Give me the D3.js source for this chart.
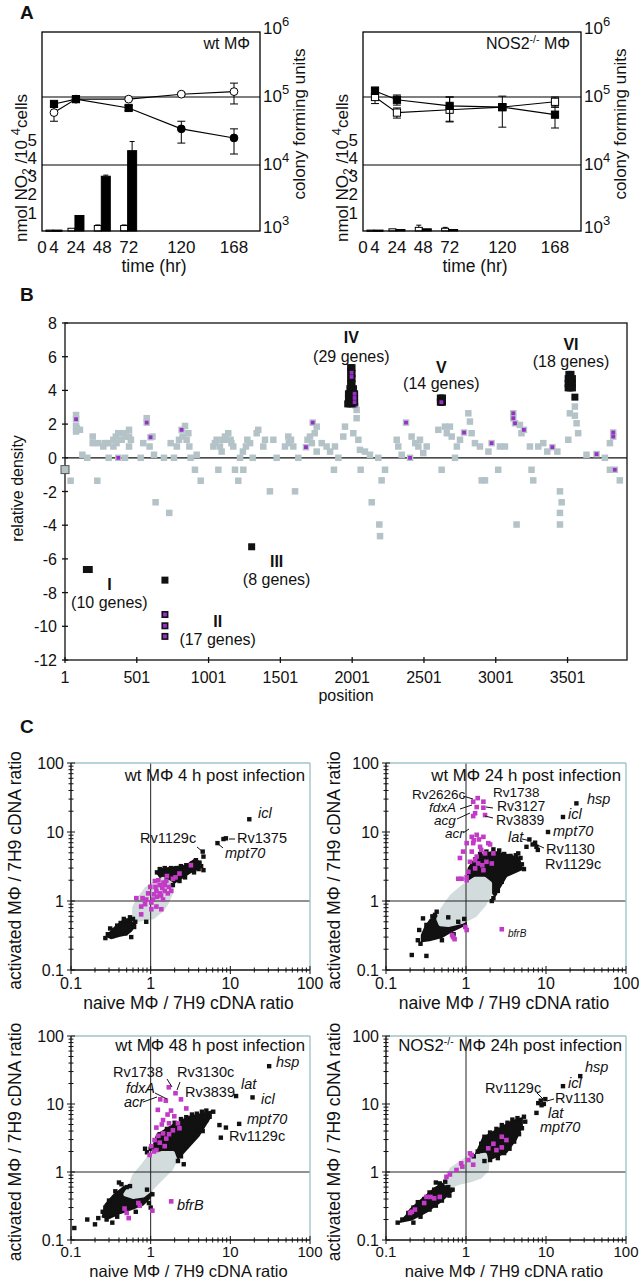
<!DOCTYPE html>
<html><head><meta charset="utf-8">
<script src="https://d3js.org/d3.v7.min.js"></script>
<style>
body { margin: 0; background: #fff; }
svg text { font-family: "Liberation Sans", Arial, sans-serif; fill: #111; }
</style>
</head><body>
<script>
// ---------------- panel A data ----------------
var aTimeTicks = [0, 4, 24, 48, 72, 120, 168];
var aCfuTimes = [4, 24, 72, 120, 168];
var aBarTimes = [4, 24, 48, 72];
var aNoTicks = [1, 2, 3, 4, 5];
var aCfuExp = [3, 4, 5, 6];

// wt macrophages (cfu, with error ends)
var wtOpenCfu = [5.9e4, 9.3e4, 9.3e4, 1.1e5, 1.2e5];
var wtOpenLo = [4.4e4, 9.0e4, 9.0e4, 1.05e5, 7.9e4];
var wtOpenHi = [7.4e4, 9.7e4, 9.7e4, 1.16e5, 1.6e5];
var wtFilledCfu = [7.9e4, 9.3e4, 6.9e4, 3.4e4, 2.5e4];
var wtFilledLo = [7.1e4, 8.6e4, 6.3e4, 2.1e4, 1.45e4];
var wtFilledHi = [8.6e4, 1.0e5, 7.5e4, 4.4e4, 3.4e4];
var wtOpenNO = [0.05, 0.15, 0.3, 0.3];
var wtOpenNOerr = [0, 0, 0.03, 0.03];
var wtFilledNO = [0.05, 0.85, 3.0, 4.4];
var wtFilledNOerr = [0, 0, 0.06, 0.5];

// NOS2-/- macrophages
var nosOpenCfu = [1.0e5, 5.9e4, 6.5e4, 7.1e4, 8.5e4];
var nosOpenLo = [8.0e4, 4.9e4, 4.3e4, 6.5e4, 7.1e4];
var nosOpenHi = [1.1e5, 6.9e4, 1.0e5, 7.7e4, 1.0e5];
var nosFilledCfu = [1.23e5, 9.1e4, 7.4e4, 7.1e4, 5.5e4];
var nosFilledLo = [1.1e5, 7.6e4, 4.4e4, 3.6e4, 3.5e4];
var nosFilledHi = [1.4e5, 1.07e5, 1.0e5, 1.03e5, 7.1e4];
var nosOpenNO = [0.05, 0.12, 0.2, 0.15];
var nosOpenNOerr = [0, 0, 0.12, 0.05];
var nosFilledNO = [0.05, 0.08, 0.12, 0.08];
var nosFilledNOerr = [0, 0, 0, 0];

// ---------------- panel B data ----------------
var bXTicks = [1, 501, 1001, 1501, 2001, 2501, 3001, 3501];
var bYTicks = [-12, -10, -8, -6, -4, -2, 0, 2, 4, 6, 8];
var bFirst = [[1, -0.7]];
var bGrey = [[40,-1.36],[78,2.54],[78,1.89],[78,1.56],[84,1.75],[105,1.66],[122,0.18],[156,0],[194,1.26],[194,0.87],
  [226,-1.36],[233,0.87],[268,0.67],[280,0.87],[300,0.87],[305,0],[338,1.07],[338,0.67],[355,1.26],[360,0.87],[372,1.46],
  [396,1.07],[410,1.46],[419,0],[425,1.26],[447,1.66],[447,1.26],[447,0.67],[460,1.07],[528,0],[546,0.87],[570,2.35],
  [590,0.67],[610,1.26],[621,0.18],[632,-2.64],[690,0],[727,-3.27],[737,0.87],[760,0],[780,0.67],[795,1.07],[820,1.26],
  [837,1.89],[848,1.07],[860,1.46],[867,0.67],[876,0],[906,-0.71],[918,0.18],[946,-1.36],[1034,0.67],[1045,0.87],
  [1057,1.07],[1069,-0.71],[1080,0.67],[1092,0.37],[1100,1.07],[1115,1.26],[1125,1.07],[1138,1.46],[1154,1.07],
  [1160,0.87],[1173,0.67],[1185,-0.71],[1208,-1.36],[1220,0],[1240,0.37],[1243,-0.71],[1261,0.67],[1271,1.07],
  [1290,0.87],[1308,0],[1336,1.46],[1347,1.66],[1382,0.67],[1394,1.07],[1428,-1.99],[1452,1.07],[1475,0],[1533,0.67],
  [1556,1.26],[1560,0.87],[1575,1.07],[1591,0.67],[1603,-1.99],[1626,0],[1690,1.07],[1707,1.26],[1720,0.87],
  [1740,1.46],[1754,1.85],[1754,0.37],[1789,0.87],[1823,0.67],[1847,0.37],[1874,-0.71],[1881,0.67],[1905,0],
  [1939,1.26],[1951,1.85],[2009,1.46],[2032,2.84],[2032,2.35],[2044,1.07],[2055,0.47],[2060,-0.71],[2090,0.37],
  [2125,0.18],[2137,-2.64],[2183,0],[2190,-3.96],[2195,-4.65],[2206,-1.34],[2230,-0.71],[2311,1.07],[2322,0.67],
  [2346,0.18],[2415,1.26],[2440,0.87],[2462,0.67],[2473,1.07],[2496,0.28],[2520,0.67],[2601,1.66],[2624,-0.71],
  [2647,1.85],[2660,1.46],[2682,1.85],[2694,1.26],[2717,0],[2730,0.67],[2752,1.07],[2810,2.64],[2821,2.15],
  [2833,1.46],[2856,0.87],[2891,0.67],[2903,-1.34],[2926,-1.34],[2950,0.37],[3018,-0.71],[3030,0.67],[3065,0.67],
  [3169,1.95],[3146,-3.96],[3180,1.46],[3239,0.67],[3250,-0.71],[3262,-1.34],[3297,0.67],[3332,0.87],[3360,0.37],
  [3448,-1.99],[3460,-2.64],[3448,-3.27],[3448,-3.96],[3430,0.37],[3506,1.07],[3517,2.64],[3552,3.04],[3564,2.05],
  [3575,1.46],[3552,2.5],[3633,0.18],[3761,0],[3796,0.87],[3796,-0.71],[3865,-1.34]];
var bGreyMarked = [[78,2.29],[372,0],[570,2.09],[597,1.22],[813,1.66],[1679,0.63],[1726,2.09],[2025,3.1],
  [2376,2.09],[2404,0],[2780,1.5],[2972,0.87],[3123,2.64],[3123,2.35],[3135,2.05],[3197,1.66],[3395,0.63],
  [3703,0.22],[3819,1.5],[3819,1.26],[3830,-0.71]];
var bBlack = [[1990,5.35],[2000,5.35],[1990,5.1],[2000,5.0],[1990,4.7],[2000,4.7],[1990,4.4],[2000,4.4],
  [1985,4.1],[1995,4.1],[2010,4.1],[1975,3.8],[1990,3.8],[2005,3.8],[1975,3.5],[1990,3.5],[2005,3.5],
  [1970,3.2],[1985,3.2],[2000,3.2],[2615,3.55],[2630,3.55],[2615,3.3],[2630,3.3],
  [3510,4.95],[3525,4.95],[3505,4.7],[3520,4.7],[3535,4.7],[3505,4.4],[3520,4.4],[3535,4.4],[3505,4.15],
  [3520,4.15],[3535,4.15],[3552,3.6],[150,-6.63],[170,-6.63],[697,-7.26],[1301,-5.28]];
var bBlackMarked = [[1997,5.05],[1997,4.8],[2018,3.8],[2018,3.55],[2018,3.3],[2622,3.3],
  [697,-9.3],[697,-9.97],[697,-10.6]];
var bClusters = [["IV", "(29 genes)"], ["V", "(14 genes)"], ["VI", "(18 genes)"],
  ["I", "(10 genes)"], ["II", "(17 genes)"], ["III", "(8 genes)"]];

// ---------------- panel C data ----------------
var cTickDecades = [0.1, 1, 10];
var cMajor = [0.1, 1, 10, 100];

// wt 4 h
var c4Grey = [[0.62,0.52],[0.8,0.55],[1.07,0.58],[1.4,0.75],[1.6,0.95],[1.85,1.4],[1.8,1.8],[1.43,2.1],[1.1,1.8],[0.88,1.5],[0.7,1.05],[0.62,0.8]];
var c4BlackHulls = [
  [[0.28,0.31],[0.31,0.35],[0.36,0.42],[0.45,0.52],[0.55,0.55],[0.61,0.52],[0.64,0.45],[0.57,0.37],[0.5,0.33],[0.4,0.31],[0.32,0.29]],
  [[1.22,2.5],[1.32,2.9],[1.9,3.05],[2.8,3.25],[3.6,4.0],[4.2,3.6],[4.0,3.0],[3.07,2.55],[2.3,2.05],[1.85,1.75],[1.45,1.9]]];
var c4Black = [[0.27,0.29],[0.29,0.33],[0.33,0.31],[0.35,0.38],[0.38,0.44],[0.42,0.48],[0.46,0.55],[0.5,0.52],[0.55,0.58],
  [0.6,0.55],[0.64,0.5],[0.62,0.42],[0.57,0.3],[0.48,0.34],[0.31,0.4],[0.4,0.36],[0.88,0.5],[1.2,2.6],[1.3,2.9],[1.5,3.0],
  [1.8,3.0],[2.1,3.0],[2.4,3.2],[2.8,3.3],[3.3,3.5],[3.7,3.9],[4.1,3.6],[4.3,3.2],[4.0,2.9],[3.5,2.6],[2.7,2.2],
  [2.3,1.95],[1.9,1.7],[1.6,2.2],[2.0,2.6],[2.6,2.9],[3.2,3.1],[4.5,5.2],[4.6,4.4],[4.6,2.8],[8.2,7.9],[8.8,8.1],
  [6.9,6.9],[17.3,15.3]];
var c4Magenta = [[0.66,1.1],[0.76,0.83],[0.76,0.64],[0.79,1.1],[0.93,1.29],[1.07,1.05],[1.18,1.4],[1.3,1.7],[1.43,1.05],
  [1.5,1.4],[1.57,1.95],[1.64,1.29],[1.9,2.1],[2.05,2.2],[2.3,2.5],[3.2,3.3],[1.02,0.76],[1.18,0.83],[1.36,0.76],
  [0.99,1.6],[1.13,1.95],[1.3,1.29],[1.7,1.6],[0.88,1.05],[1.02,0.95],[1.5,1.7],[1.81,1.4],[1.2,1.15],[1.4,1.55],
  [1.1,1.25],[0.85,0.9],[1.25,2.0],[1.6,2.3],[1.35,1.2],[1.15,1.6],[1.45,1.85]];

// wt 24 h
var c24Grey = [[0.48,0.46],[0.6,0.45],[0.9,0.5],[1.3,0.62],[1.7,0.9],[2.0,1.3],[2.0,1.8],[1.7,2.1],[1.3,2.1],[0.9,1.6],[0.65,1.15],[0.5,0.75],[0.45,0.55]];
var c24BlackHulls = [
  [[0.28,0.26],[0.35,0.27],[0.5,0.3],[0.65,0.36],[0.85,0.42],[1.0,0.46],[1.0,0.52],[0.8,0.55],[0.6,0.55],[0.45,0.6],[0.36,0.54],[0.31,0.42],[0.28,0.32]],
  [[1.04,2.0],[1.08,3.0],[1.36,4.4],[2.2,5.2],[3.2,4.7],[4.6,4.2],[5.0,2.9],[3.2,2.3],[2.3,1.2],[1.9,1.6],[1.25,1.95]]];
var c24Black = [[0.21,0.165],[0.32,0.16],[0.25,0.27],[0.27,0.24],[0.29,0.56],[0.32,0.45],[0.43,0.7],[0.41,0.63],[0.8,0.5],
  [0.38,0.6],[0.6,0.58],[0.95,0.55],[0.5,0.27],[0.7,0.33],[0.26,0.38],[1.05,2.2],[1.1,2.6],[1.2,3.3],[1.3,4.0],[1.5,4.8],
  [1.8,5.2],[2.2,5.6],[2.6,5.4],[3.0,4.8],[3.6,4.5],[4.2,4.6],[4.5,4.9],[4.8,4.2],[5.0,3.4],[5.3,2.9],[4.5,3.0],[3.8,2.8],
  [3.0,2.4],[2.6,2.0],[2.4,1.6],[2.3,1.3],[2.2,1.1],[2.1,1.0],[2.5,1.4],[2.8,1.9],[3.5,3.3],[4.0,3.7],
  [6.2,7.8],[7.3,7.0],[7.6,6.1],[7.9,5.5],[5.7,6.1],[6.8,6.6],[10.6,10],[16.3,16.5],[24,26]];
var c24Magenta = [[0.69,0.3],[0.67,0.32],[0.72,0.28],[0.98,0.42],[1.02,0.38],[2.8,0.39],
  [1.23,27.5],[1.65,27.5],[1.36,23],[1.3,18.7],[1.65,22.5],[1.73,17.6],[1.23,17],[1.4,31],
  [0.84,4.2],[0.88,2.1],[1.02,2.2],[1.18,8.5],[1.36,9.1],[1.65,8.5],[1.23,6.9],[1.5,6.1],[1.9,6.9],[1.18,5.2],
  [1.36,4.4],[1.73,4.9],[1.12,3.7],[1.42,3.5],[1.8,3.7],[1.3,2.97],[1.65,2.8],[1.07,2.65],[2.1,3.5],[2.2,4.9],
  [2.0,6.6],[0.92,5.2],[1.02,6.9],[0.8,2.1],[1.02,2.0],[1.25,7.6],[1.45,7.8],[1.55,5.5],[1.3,3.9],[1.6,3.3]];

// wt 48 h
var c48Grey = [[0.48,0.47],[0.55,0.6],[0.62,0.88],[0.8,1.25],[0.97,1.7],[1.4,1.9],[1.9,1.9],[2.05,1.5],[1.8,1.1],[1.3,0.76],[1.0,0.55],[0.8,0.45],[0.6,0.43]];
var c48BlackHulls = [
  [[0.25,0.22],[0.3,0.21],[0.42,0.25],[0.6,0.29],[0.8,0.33],[0.98,0.42],[1.02,0.5],[0.8,0.55],[0.6,0.58],[0.46,0.6],[0.34,0.45],[0.27,0.33]],
  [[1.04,2.1],[1.2,3.5],[1.9,4.9],[3.07,6.5],[4.5,7.2],[5.8,7.8],[5.5,6.2],[4.0,3.4],[2.5,1.85],[2.1,1.5],[1.57,1.9]]];
var c48Black = [[0.11,0.15],[0.16,0.2],[0.2,0.17],[0.22,0.21],[0.25,0.26],[0.28,0.2],[0.3,0.24],[0.33,0.18],[0.38,0.22],
  [0.4,0.7],[0.43,0.66],[0.5,0.6],[0.55,0.62],[0.9,0.55],[1.05,0.47],[0.95,0.35],[1.0,0.3],[0.27,0.3],[0.3,0.38],
  [0.36,0.52],[0.65,0.26],
  [1.0,2.2],[0.85,2.2],[0.9,1.95],[1.2,2.5],[1.3,3.6],[1.6,4.3],[2.0,5.3],[2.4,6.0],[2.8,6.4],[3.3,7.0],[3.8,7.2],
  [4.4,7.7],[5.0,8.0],[6.1,7.7],[5.5,6.5],[4.8,5.5],[4.2,4.5],[3.7,3.6],[3.2,3.0],[2.8,2.4],[2.4,1.7],[2.2,1.45],
  [2.6,1.3],[4.5,4.0],[5.0,5.8],[3.4,4.2],[2.9,3.1],[7.3,4.9],[8.8,4.5],[7.6,3.2],[11.8,13.1],[19,12.5],[12.9,5.1],[30.7,36]];
var c48Magenta = [[0.5,0.25],[0.53,0.21],[0.47,0.29],[0.73,0.32],[0.7,0.35],[1.05,0.27],[1.81,0.37],
  [1.69,17.6],[2.05,14.4],[1.32,11.7],[1.55,11.2],[2.4,11.7],[1.23,8.2],[1.8,8.0],[2.8,8.6],[1.43,5.8],[1.7,5.2],
  [1.18,4.5],[1.43,3.7],[1.9,4.1],[1.12,2.95],[1.3,2.7],[1.57,3.1],[1.02,2.4],[1.18,2.1],[0.97,1.78],[2.3,4.4],
  [1.63,7.0],[1.98,6.6],[2.2,5.2],[1.38,5.0],[1.25,3.4],[1.5,2.4],[1.1,2.0],[1.7,3.6]];

// NOS2-/- 24 h
var cNosGrey = [[0.55,0.7],[0.58,0.85],[0.66,1.1],[0.85,1.35],[1.12,1.68],[1.73,1.8],[1.85,1.3],[1.82,1.07],[1.5,0.85],[1.1,0.75],[0.84,0.7],[0.63,0.62]];
var cNosBlackHulls = [
  [[0.15,0.185],[0.18,0.23],[0.2,0.28],[0.27,0.38],[0.41,0.58],[0.5,0.67],[0.62,0.66],[0.67,0.52],[0.47,0.36],[0.32,0.26],[0.21,0.2]],
  [[1.32,1.8],[1.64,3.2],[2.66,4.4],[3.7,5.5],[5.0,6.2],[5.0,4.6],[4.2,3.0],[3.2,1.95],[2.2,1.62],[1.64,1.46]]];
var cNosBlack = [[0.14,0.18],[0.16,0.2],[0.19,0.25],[0.22,0.3],[0.25,0.36],[0.3,0.4],[0.35,0.5],[0.4,0.55],[0.42,0.7],
  [0.47,0.68],[0.55,0.72],[0.6,0.6],[0.68,0.55],[0.62,0.45],[0.5,0.38],[0.42,0.32],[0.35,0.28],[0.27,0.22],[0.22,0.18],
  [1.25,1.7],[1.4,2.0],[1.55,2.6],[1.7,3.3],[2.0,3.8],[2.4,4.3],[2.8,4.9],[3.3,5.3],[3.8,5.9],[4.4,6.2],[5.3,6.5],
  [5.5,5.5],[5.0,4.4],[4.6,3.6],[4.0,2.8],[3.5,2.2],[3.0,1.9],[2.5,1.6],[2.0,1.5],[1.7,1.45],
  [7.6,7.4],[8.0,10.3],[8.6,11.2],[9.4,10.0],[8.8,9.6],[9.8,11.8],[16.3,18.3],[26.8,25.7]];
var cNosMagenta = [[0.2,0.25],[0.23,0.28],[0.32,0.43],[0.36,0.43],[0.4,0.41],[0.57,0.85],[0.63,0.92],[0.76,1.07],
  [0.87,1.34],[1.07,1.5],[1.23,1.28],[1.18,1.78],[1.9,2.23],[2.2,2.6],[2.8,3.3],[2.8,2.3],[2.4,2.1],[3.2,2.95],
  [1.12,1.88],[0.9,1.2],[0.47,0.43],[0.21,0.26],[0.3,0.35]];

// ---------------- drawing ----------------
var svg = d3.select("body").append("svg").attr("width", 639).attr("height", 1280);

function panelLetter(s, x, y) {
  svg.append("text").attr("x", x).attr("y", y).attr("font-size", 19).attr("font-weight", "bold").text(s);
}
panelLetter("A", 20, 19);
panelLetter("B", 20, 301);
panelLetter("C", 20, 733);

function drawPanelA(left, d) {
  var W = 218, H = 199, top = 32;
  var g = svg.append("g").attr("transform", "translate(" + left + "," + top + ")");
  var x = d3.scaleLinear().domain([0, 4, 168, 192]).range([0, 12, 192, W]);
  var yNO = d3.scaleLinear().domain([0, 10.9]).range([H, 0]);
  var yCfu = d3.scaleLog().domain([1e3, 1e6]).range([H + 2, H + 2 - 204]);

  // nitrite bars
  function bars(vals, errs, dx, w, fill) {
    aBarTimes.forEach(function (t, i) {
      var v = vals[i];
      g.append("rect").attr("x", x(t) + dx).attr("width", w)
        .attr("y", yNO(v)).attr("height", Math.max(H - yNO(v), 1.2))
        .attr("fill", fill).attr("stroke", "#000").attr("stroke-width", 1);
      if (errs[i] > 0) {
        var cx = x(t) + dx + w / 2;
        g.append("line").attr("x1", cx).attr("x2", cx).attr("y1", yNO(v)).attr("y2", yNO(v + errs[i])).attr("stroke", "#000");
        g.append("line").attr("x1", cx - 2.5).attr("x2", cx + 2.5).attr("y1", yNO(v + errs[i])).attr("y2", yNO(v + errs[i])).attr("stroke", "#000");
      }
    });
  }
  bars(d.openNO, d.openNOerr, -8, 7, "#fff");
  bars(d.filledNO, d.filledNOerr, -1, 9, "#000");

  // reference lines
  [1e4, 1e5].forEach(function (v) {
    g.append("line").attr("x1", 0).attr("x2", W).attr("y1", yCfu(v)).attr("y2", yCfu(v)).attr("stroke", "#000").attr("stroke-width", 1.2);
  });
  g.append("rect").attr("width", W).attr("height", H).attr("fill", "none").attr("stroke", "#000").attr("stroke-width", 1.3);

  // cfu series
  var line = d3.line().x(function (v, i) { return x(aCfuTimes[i]); }).y(function (v) { return yCfu(v); });
  function series(vals, lo, hi, shapes, fill) {
    g.append("path").attr("d", line(vals)).attr("fill", "none").attr("stroke", "#000").attr("stroke-width", 1.1);
    vals.forEach(function (v, i) {
      var cx = x(aCfuTimes[i]);
      g.append("line").attr("x1", cx).attr("x2", cx).attr("y1", yCfu(lo[i])).attr("y2", yCfu(hi[i])).attr("stroke", "#000");
      [lo[i], hi[i]].forEach(function (e) {
        g.append("line").attr("x1", cx - 4).attr("x2", cx + 4).attr("y1", yCfu(e)).attr("y2", yCfu(e)).attr("stroke", "#000");
      });
    });
    vals.forEach(function (v, i) {
      var cx = x(aCfuTimes[i]), cy = yCfu(v);
      if (shapes[i] === "sq") {
        g.append("rect").attr("x", cx - 3.6).attr("y", cy - 3.6).attr("width", 7.2).attr("height", 7.2)
          .attr("fill", fill).attr("stroke", "#000").attr("stroke-width", 1);
      } else {
        g.append("circle").attr("cx", cx).attr("cy", cy).attr("r", 3.9)
          .attr("fill", fill).attr("stroke", "#000").attr("stroke-width", 1);
      }
    });
  }
  series(d.openCfu, d.openLo, d.openHi, d.openShapes, "#fff");
  series(d.filledCfu, d.filledLo, d.filledHi, d.filledShapes, "#000");

  // axes labels
  aNoTicks.forEach(function (v) {
    g.append("text").attr("x", -5).attr("y", yNO(v) + 6).attr("text-anchor", "end").attr("font-size", 17).text(v);
  });
  aCfuExp.forEach(function (e) {
    var t = g.append("text").attr("x", W + 3).attr("y", yCfu(Math.pow(10, e)) + (e === 3 ? 0 : 5)).attr("font-size", 17);
    t.append("tspan").text("10");
    t.append("tspan").attr("font-size", 13).attr("dy", -8).text(e);
  });
  aTimeTicks.forEach(function (t) {
    g.append("text").attr("x", x(t)).attr("y", H + 22).attr("text-anchor", "middle").attr("font-size", 17).text(t);
  });
  g.append("text").attr("x", W / 2 + 3).attr("y", H + 41).attr("text-anchor", "middle").attr("font-size", 17.5).text("time (hr)");

  var yl = g.append("text").attr("transform", "translate(-15,136) rotate(-90)").attr("text-anchor", "middle").attr("font-size", 17);
  yl.append("tspan").text("nmol NO");
  yl.append("tspan").attr("font-size", 12).attr("dy", 4).text("2");
  yl.append("tspan").attr("dy", -4).text(" /10 ");
  yl.append("tspan").attr("font-size", 13).attr("dy", -7).text("4");
  yl.append("tspan").attr("dy", 7).text("cells");
  g.append("text").attr("transform", "translate(" + (W + 45) + ",92) rotate(-90)").attr("text-anchor", "middle")
    .attr("font-size", 17).text("colony forming units");

  var tt = g.append("text").attr("x", d.titleEnd).attr("y", 17).attr("text-anchor", "end").attr("font-size", 16);
  d.title.forEach(function (p) {
    var s = tt.append("tspan").text(p[0]);
    if (p[1] === 1) s.attr("font-size", 10.5).attr("dy", -6);
    if (p[1] === -1) s.attr("dy", 6);
  });
}

drawPanelA(42, {
  openCfu: wtOpenCfu, openLo: wtOpenLo, openHi: wtOpenHi, openShapes: ["ci", "ci", "ci", "ci", "ci"],
  filledCfu: wtFilledCfu, filledLo: wtFilledLo, filledHi: wtFilledHi, filledShapes: ["sq", "sq", "sq", "ci", "ci"],
  openNO: wtOpenNO, openNOerr: wtOpenNOerr, filledNO: wtFilledNO, filledNOerr: wtFilledNOerr,
  title: [["wt M\u03A6", 0]], titleEnd: 208
});
drawPanelA(363, {
  openCfu: nosOpenCfu, openLo: nosOpenLo, openHi: nosOpenHi, openShapes: ["sq", "sq", "sq", "sq", "sq"],
  filledCfu: nosFilledCfu, filledLo: nosFilledLo, filledHi: nosFilledHi, filledShapes: ["sq", "sq", "sq", "sq", "sq"],
  openNO: nosOpenNO, openNOerr: nosOpenNOerr, filledNO: nosFilledNO, filledNOerr: nosFilledNOerr,
  title: [["NOS2", 0], ["-/-", 1], [" M\u03A6", -1]], titleEnd: 207
});

// ---------------- panel B ----------------
(function () {
  var L = 65, R = 627, T = 323, B = 660;
  var x = d3.scaleLinear().domain([1, 3915]).range([L, R]);
  var y = d3.scaleLinear().domain([-12, 8]).range([B, T]);
  var g = svg.append("g");
  g.append("rect").attr("x", L).attr("y", T).attr("width", R - L).attr("height", B - T)
    .attr("fill", "none").attr("stroke", "#222").attr("stroke-width", 1.4);
  g.append("line").attr("x1", L).attr("x2", R).attr("y1", y(0)).attr("y2", y(0)).attr("stroke", "#111").attr("stroke-width", 1.3);
  bYTicks.forEach(function (v) {
    g.append("line").attr("x1", L - 3).attr("x2", L + 3).attr("y1", y(v)).attr("y2", y(v)).attr("stroke", "#111").attr("stroke-width", 1.3);
    g.append("text").attr("x", L - 8).attr("y", y(v) + 6).attr("text-anchor", "end").attr("font-size", 16).text(v);
  });
  bXTicks.forEach(function (v) {
    g.append("line").attr("x1", x(v)).attr("x2", x(v)).attr("y1", B - 3).attr("y2", B + 3).attr("stroke", "#111").attr("stroke-width", 1.3);
    g.append("text").attr("x", x(v)).attr("y", B + 23).attr("text-anchor", "middle").attr("font-size", 16).text(v);
  });
  g.append("text").attr("x", (L + R) / 2).attr("y", B + 41).attr("text-anchor", "middle").attr("font-size", 16).text("position");
  g.append("text").attr("transform", "translate(23," + ((T + B) / 2 - 3) + ") rotate(-90)").attr("text-anchor", "middle")
    .attr("font-size", 16).text("relative density");

  var grey = "#b4c3c7", purple = "#9a2ec8";
  function sq(list, size, fill, stroke) {
    list.forEach(function (p) {
      g.append("rect").attr("x", x(p[0]) - size / 2).attr("y", y(p[1]) - size / 2).attr("width", size).attr("height", size)
        .attr("fill", fill).attr("stroke", stroke || "none").attr("stroke-width", 1);
    });
  }
  sq(bGrey, 6.5, grey);
  sq(bGreyMarked, 6.5, grey);
  sq(bGreyMarked, 3.8, purple);
  sq(bFirst, 8, grey, "#555");
  sq(bBlack, 7, "#111");
  sq(bBlackMarked, 7, "#111");
  sq(bBlackMarked, 3.8, purple);

  // cluster annotations: [centre position, numeral baseline px, count baseline px]
  var clusterPos = [[1995, 343, 362], [2622, 373, 389], [3525, 350, 367], [310, 590, 608], [1064, 627, 645], [1475, 567, 585]];
  bClusters.forEach(function (c, i) {
    var cx = x(clusterPos[i][0]);
    g.append("text").attr("x", cx).attr("y", clusterPos[i][1]).attr("text-anchor", "middle").attr("font-size", 16)
      .attr("font-weight", "bold").text(c[0]);
    g.append("text").attr("x", cx).attr("y", clusterPos[i][2]).attr("text-anchor", "middle").attr("font-size", 16).text(c[1]);
  });
})();

// ---------------- panel C ----------------
var magenta = "#c23ac6", cloudGrey = "#d3dcdc", frameTeal = "#9fc4c9";

function drawPanelC(cfg) {
  var W = cfg.w, H = cfg.h;
  var g = svg.append("g").attr("transform", "translate(" + cfg.left + "," + cfg.top + ")");
  var x = d3.scaleLog().domain([0.1, 100]).range([0, W]);
  var y = d3.scaleLog().domain([0.1, 100]).range([H, 0]);
  var poly = d3.line().x(function (p) { return x(p[0]); }).y(function (p) { return y(p[1]); }).curve(d3.curveLinearClosed);

  cfg.hulls.forEach(function (h) {
    g.append("path").attr("d", poly(h)).attr("fill", "#111").attr("stroke", "#111")
      .attr("stroke-width", 2).attr("stroke-linejoin", "miter");
  });
  g.append("path").attr("d", poly(cfg.grey)).attr("fill", cloudGrey).attr("stroke", cloudGrey)
    .attr("stroke-width", 4).attr("stroke-linejoin", "round");

  // reference lines at 1
  g.append("line").attr("x1", x(1)).attr("x2", x(1)).attr("y1", 0).attr("y2", H).attr("stroke", "#222").attr("stroke-width", 1);
  g.append("line").attr("x1", 0).attr("x2", W).attr("y1", y(1)).attr("y2", y(1)).attr("stroke", "#222").attr("stroke-width", 1);

  function pts(list, size, fill) {
    list.forEach(function (p) {
      g.append("rect").attr("x", x(p[0]) - size / 2).attr("y", y(p[1]) - size / 2)
        .attr("width", size).attr("height", size).attr("fill", fill);
    });
  }
  pts(cfg.black, 4.4, "#111");
  pts(cfg.magenta, 4.6, magenta);

  // frame
  g.append("line").attr("x1", 0).attr("x2", W).attr("y1", 0).attr("y2", 0).attr("stroke", frameTeal).attr("stroke-width", 1.4);
  g.append("line").attr("x1", W).attr("x2", W).attr("y1", 0).attr("y2", H).attr("stroke", frameTeal).attr("stroke-width", 1.4);
  g.append("line").attr("x1", 0).attr("x2", W).attr("y1", H).attr("y2", H).attr("stroke", "#111").attr("stroke-width", 1.4);
  g.append("line").attr("x1", 0).attr("x2", 0).attr("y1", 0).attr("y2", H).attr("stroke", "#111").attr("stroke-width", 1.4);

  var ticks = [];
  cTickDecades.forEach(function (dec) { for (var m = 1; m < 10; m++) ticks.push([dec * m, m === 1]); });
  ticks.push([100, true]);
  ticks.forEach(function (t) {
    var l = t[1] ? 4 : 2.5;
    g.append("line").attr("x1", x(t[0])).attr("x2", x(t[0])).attr("y1", H - l).attr("y2", H + l).attr("stroke", "#111");
    g.append("line").attr("x1", -l).attr("x2", l).attr("y1", y(t[0])).attr("y2", y(t[0])).attr("stroke", "#111");
  });
  cMajor.forEach(function (v) {
    g.append("text").attr("x", x(v)).attr("y", H + cfg.tickDy).attr("text-anchor", "middle").attr("font-size", cfg.tickSize).text(v);
    g.append("text").attr("x", -7).attr("y", y(v) + 5.5).attr("text-anchor", "end").attr("font-size", 16).text(v);
  });
  g.append("text").attr("x", W / 2 - 2).attr("y", H + cfg.xlabDy).attr("text-anchor", "middle").attr("font-size", cfg.xlabSize)
    .text("naive M\u03A6 / 7H9 cDNA ratio");
  g.append("text").attr("transform", "translate(" + cfg.ylabX + "," + (H / 2 + 4) + ") rotate(-90)").attr("text-anchor", "middle")
    .attr("font-size", 17.5).text("activated M\u03A6 / 7H9 cDNA ratio");

  var tt = g.append("text").attr("x", cfg.titlePos[0]).attr("y", cfg.titlePos[1]).attr("text-anchor", "end").attr("font-size", 16.8);
  cfg.title.forEach(function (p) {
    var s = tt.append("tspan").text(p[0]);
    if (p[1] === 1) s.attr("font-size", 10.5).attr("dy", -6);
    if (p[1] === -1) s.attr("dy", 6);
  });

  cfg.leaders.forEach(function (l) {
    g.append("line").attr("x1", l[0]).attr("y1", l[1]).attr("x2", l[2]).attr("y2", l[3]).attr("stroke", "#111").attr("stroke-width", 1);
  });
  cfg.labels.forEach(function (a) {
    g.append("text").attr("x", a[1]).attr("y", a[2]).attr("font-size", a[4] || 14.5)
      .attr("font-style", a[3] ? "italic" : "normal").text(a[0]);
  });
}

drawPanelC({
  left: 71, top: 763, w: 239, h: 207, ylabX: -50, xlabDy: 39, xlabSize: 17.5, tickDy: 19, tickSize: 16,
  grey: c4Grey, hulls: c4BlackHulls, black: c4Black, magenta: c4Magenta,
  title: [["wt M\u03A6 4 h post infection", 0]], titlePos: [234, 18],
  labels: [["icl", 187, 55, 1], ["Rv1375", 166, 80, 0], ["Rv1129c", 69, 80, 0], ["mpt70", 154, 95, 1]],
  leaders: [[126, 84, 132, 89], [158, 76, 164, 76], [146, 80, 152, 85]]
});
drawPanelC({
  left: 386, top: 763, w: 240, h: 207, ylabX: -46, xlabDy: 39, xlabSize: 17.5, tickDy: 19, tickSize: 16,
  grey: c24Grey, hulls: c24BlackHulls, black: c24Black, magenta: c24Magenta,
  title: [["wt M\u03A6 24 h post infection", 0]], titlePos: [235, 18],
  labels: [["Rv2626c", 26, 36, 0, 13.5], ["Rv1738", 107, 34, 0, 13.5], ["fdxA", 43, 49, 1, 13.5], ["Rv3127", 111, 48, 0, 14],
    ["acg", 48, 61.5, 1, 13.5], ["Rv3839", 110, 62, 0, 14], ["acr", 59, 75, 1, 13.5], ["hsp", 201, 41, 1], ["icl", 182, 56, 1],
    ["mpt70", 167, 73, 1], ["lat", 122, 79, 1], ["Rv1130", 160, 91, 0], ["Rv1129c", 159, 106, 0], ["bfrB", 122, 174, 1, 10]],
  leaders: [[77, 33, 87, 36], [74, 46, 86, 42], [71, 56, 84, 50], [77, 70, 83, 66], [100, 44, 107, 45],
    [99, 53, 107, 55], [136, 76, 145, 78], [158, 85, 149, 81]]
});
drawPanelC({
  left: 71, top: 1036, w: 239, h: 204, ylabX: -50, xlabDy: 36.5, xlabSize: 16.5, tickDy: 17, tickSize: 15,
  grey: c48Grey, hulls: c48BlackHulls, black: c48Black, magenta: c48Magenta,
  title: [["wt M\u03A6 48 h post infection", 0]], titlePos: [234, 15],
  labels: [["hsp", 205, 31, 1], ["Rv1738", 42, 41, 0], ["Rv3130c", 106, 41, 0], ["fdxA", 55, 57, 1],
    ["Rv3839", 114, 61, 0], ["lat", 170, 53, 1], ["acr", 53, 71, 1], ["icl", 190, 68, 1], ["mpt70", 176, 88, 1],
    ["Rv1129c", 158, 105, 0], ["bfrB", 106, 174, 1]],
  leaders: [[96, 43, 101, 51], [109, 46, 106, 54], [84, 57, 96, 63], [72, 66, 86, 61]]
});
drawPanelC({
  left: 386, top: 1036, w: 240, h: 204, ylabX: -46, xlabDy: 36.5, xlabSize: 16.5, tickDy: 17, tickSize: 15,
  grey: cNosGrey, hulls: cNosBlackHulls, black: cNosBlack, magenta: cNosMagenta,
  title: [["NOS2", 0], ["-/-", 1], [" M\u03A6 24h post infection", -1]], titlePos: [236, 15],
  labels: [["hsp", 199, 36, 1], ["icl", 182, 52, 1], ["Rv1129c", 99, 57, 0], ["Rv1130", 169, 67, 0],
    ["lat", 162, 82, 1], ["mpt70", 154, 96, 1]],
  leaders: [[151, 57, 157, 63], [168, 63, 161, 65]]
});
</script>
</body></html>
